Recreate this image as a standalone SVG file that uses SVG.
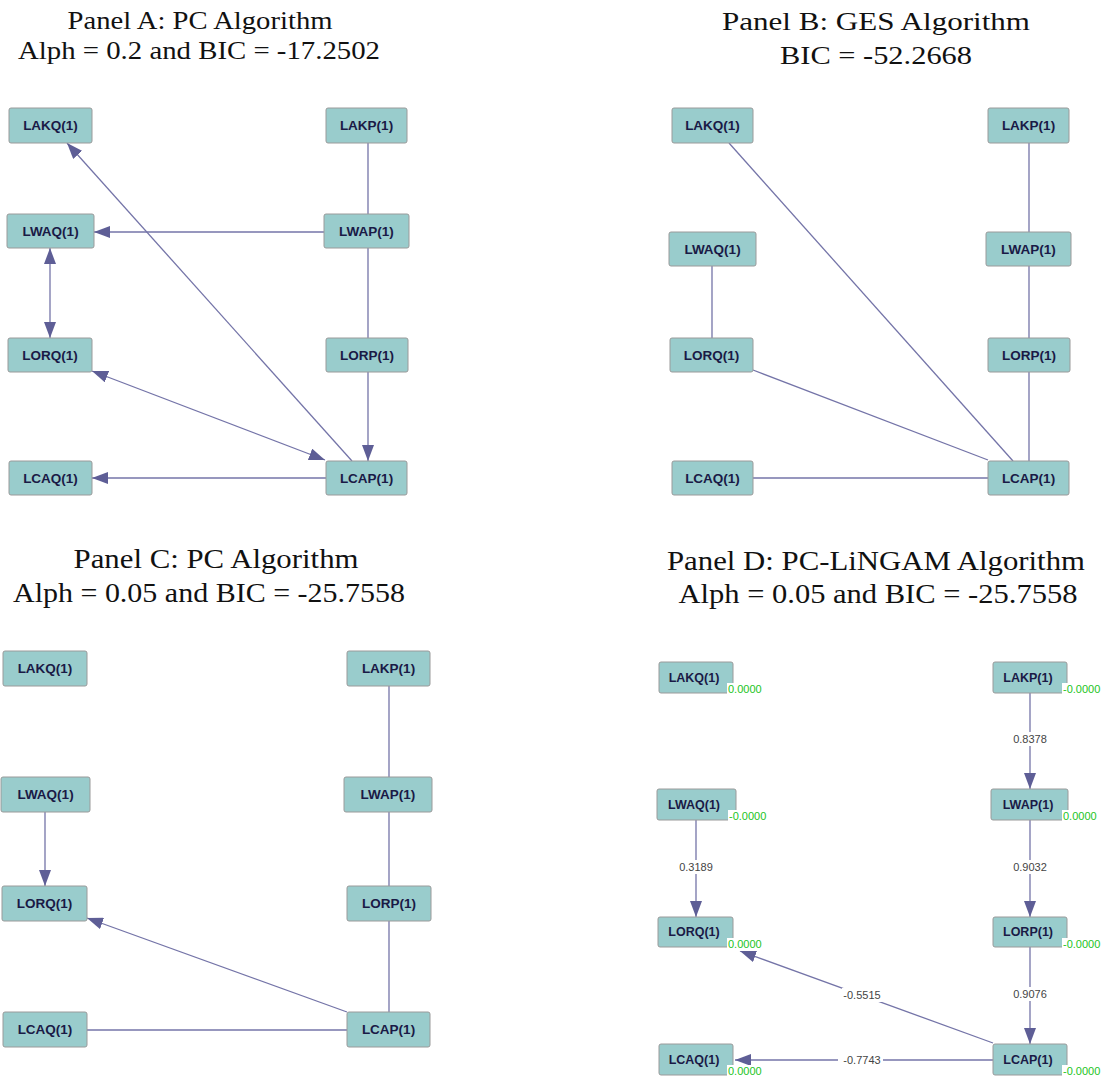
<svg xmlns="http://www.w3.org/2000/svg" width="1107" height="1078" viewBox="0 0 1107 1078">
<style>
.title{font-family:"Liberation Serif","Times New Roman",serif;fill:#111;text-anchor:middle}
.node rect.box{fill:#99cccc;stroke:#9a9a9a;stroke-width:1}
.node text.lbl{font-family:"Liberation Sans",Arial,sans-serif;font-weight:bold;fill:#1a1a46;text-anchor:middle}
.na text.lbl{font-size:13.5px}
.nd text.lbl{font-size:12.5px}
.edge{stroke:#7474a8;stroke-width:1.3;fill:none}
.elab{font-family:"Liberation Sans",Arial,sans-serif;font-size:11px;fill:#444;text-anchor:middle}
.node text.glab{font-family:"Liberation Sans",Arial,sans-serif;font-size:11px;fill:#22c422;font-weight:normal}
.bg,.node rect.bg{fill:#fff;stroke:none}
</style>
<defs>
<marker id="ah" viewBox="0 0 16 12" refX="16" refY="6" markerWidth="16" markerHeight="12" markerUnits="userSpaceOnUse" orient="auto-start-reverse">
<path d="M0,0 L16,6 L0,12 z" fill="#5e5e96"/>
</marker>
</defs>
<rect width="1107" height="1078" fill="#fff"/>

<g id="titles">
<text class="title" x="200" y="29" font-size="25" textLength="265" lengthAdjust="spacingAndGlyphs">Panel A: PC Algorithm</text>
<text class="title" x="199" y="59" font-size="25" textLength="362" lengthAdjust="spacingAndGlyphs">Alph = 0.2 and BIC = -17.2502</text>
<text class="title" x="876" y="30" font-size="26" textLength="308" lengthAdjust="spacingAndGlyphs">Panel B: GES Algorithm</text>
<text class="title" x="876" y="64" font-size="26" textLength="192" lengthAdjust="spacingAndGlyphs">BIC = -52.2668</text>
<text class="title" x="216" y="568" font-size="27" textLength="285" lengthAdjust="spacingAndGlyphs">Panel C: PC Algorithm</text>
<text class="title" x="209" y="602" font-size="27" textLength="392" lengthAdjust="spacingAndGlyphs">Alph = 0.05 and BIC = -25.7558</text>
<text class="title" x="876" y="570" font-size="27" textLength="418" lengthAdjust="spacingAndGlyphs">Panel D: PC-LiNGAM Algorithm</text>
<text class="title" x="878" y="603" font-size="27" textLength="399" lengthAdjust="spacingAndGlyphs">Alph = 0.05 and BIC = -25.7558</text>
</g>

<g id="connectors">
<!-- Panel A -->
<path class="edge" d="M368,143 V214"/>
<path class="edge" d="M324,232 H94" marker-end="url(#ah)"/>
<path class="edge" d="M368,248 V338"/>
<path class="edge" d="M50,248 V338" marker-start="url(#ah)" marker-end="url(#ah)"/>
<path class="edge" d="M368,372 V461" marker-end="url(#ah)"/>
<path class="edge" d="M326,478 H92" marker-end="url(#ah)"/>
<path class="edge" d="M92,371 L325,460" marker-start="url(#ah)" marker-end="url(#ah)"/>
<path class="edge" d="M352,461 L67,143" marker-end="url(#ah)"/>
<!-- Panel B -->
<path class="edge" d="M729,143 L1013,461"/>
<path class="edge" d="M1029,143 V232"/>
<path class="edge" d="M1029,266 V338"/>
<path class="edge" d="M1029,372 V461"/>
<path class="edge" d="M712,266 V338"/>
<path class="edge" d="M753,370 L988,460"/>
<path class="edge" d="M753,478 H988"/>
<!-- Panel C -->
<path class="edge" d="M389,686 V777"/>
<path class="edge" d="M389,812 V886"/>
<path class="edge" d="M389,921 V1012"/>
<path class="edge" d="M45,812 V886" marker-end="url(#ah)"/>
<path class="edge" d="M347,1012 L87,918" marker-end="url(#ah)"/>
<path class="edge" d="M87,1030 H347"/>
<!-- Panel D -->
<path class="edge" d="M1030,693 V789" marker-end="url(#ah)"/>
<path class="edge" d="M1030,820 V917" marker-end="url(#ah)"/>
<path class="edge" d="M1030,947 V1044" marker-end="url(#ah)"/>
<path class="edge" d="M696,820 V917" marker-end="url(#ah)"/>
<path class="edge" d="M993,1043 L740,951" marker-end="url(#ah)"/>
<path class="edge" d="M993,1060 H735" marker-end="url(#ah)"/>
<!-- edge labels -->
<rect class="bg" x="1011" y="732" width="38" height="14"/>
<text class="elab" x="1030" y="743">0.8378</text>
<rect class="bg" x="1011" y="860" width="38" height="14"/>
<text class="elab" x="1030" y="871">0.9032</text>
<rect class="bg" x="1011" y="987" width="38" height="14"/>
<text class="elab" x="1030" y="998">0.9076</text>
<rect class="bg" x="677" y="860" width="38" height="14"/>
<text class="elab" x="696" y="871">0.3189</text>
<rect class="bg" x="842" y="988" width="40" height="14"/>
<text class="elab" x="862" y="999">-0.5515</text>
<rect class="bg" x="838" y="1053" width="45" height="14"/>
<text class="elab" x="862" y="1064">-0.7743</text>
</g>

<!-- Panel A nodes -->
<g id="A-LAKQ" class="node na"><rect class="box" x="9" y="108" width="83" height="35" rx="2"/><text class="lbl" x="50.5" y="130">LAKQ(1)</text></g>
<g id="A-LAKP" class="node na"><rect class="box" x="326" y="108" width="81" height="35" rx="2"/><text class="lbl" x="366.5" y="130">LAKP(1)</text></g>
<g id="A-LWAQ" class="node na"><rect class="box" x="7" y="214" width="87" height="34" rx="2"/><text class="lbl" x="50.5" y="236">LWAQ(1)</text></g>
<g id="A-LWAP" class="node na"><rect class="box" x="324" y="214" width="85" height="34" rx="2"/><text class="lbl" x="366.5" y="236">LWAP(1)</text></g>
<g id="A-LORQ" class="node na"><rect class="box" x="8" y="338" width="84" height="34" rx="2"/><text class="lbl" x="50" y="360">LORQ(1)</text></g>
<g id="A-LORP" class="node na"><rect class="box" x="326" y="338" width="82" height="34" rx="2"/><text class="lbl" x="367" y="360">LORP(1)</text></g>
<g id="A-LCAQ" class="node na"><rect class="box" x="9" y="461" width="83" height="34" rx="2"/><text class="lbl" x="50.5" y="483">LCAQ(1)</text></g>
<g id="A-LCAP" class="node na"><rect class="box" x="326" y="461" width="81" height="34" rx="2"/><text class="lbl" x="366.5" y="483">LCAP(1)</text></g>

<!-- Panel B nodes -->
<g id="B-LAKQ" class="node na"><rect class="box" x="672" y="108" width="81" height="35" rx="2"/><text class="lbl" x="712.5" y="130">LAKQ(1)</text></g>
<g id="B-LAKP" class="node na"><rect class="box" x="988" y="108" width="81" height="35" rx="2"/><text class="lbl" x="1028.5" y="130">LAKP(1)</text></g>
<g id="B-LWAQ" class="node na"><rect class="box" x="669" y="232" width="87" height="34" rx="2"/><text class="lbl" x="712.5" y="254">LWAQ(1)</text></g>
<g id="B-LWAP" class="node na"><rect class="box" x="986" y="232" width="85" height="34" rx="2"/><text class="lbl" x="1028.5" y="254">LWAP(1)</text></g>
<g id="B-LORQ" class="node na"><rect class="box" x="670" y="338" width="83" height="34" rx="2"/><text class="lbl" x="711.5" y="360">LORQ(1)</text></g>
<g id="B-LORP" class="node na"><rect class="box" x="988" y="338" width="82" height="34" rx="2"/><text class="lbl" x="1029" y="360">LORP(1)</text></g>
<g id="B-LCAQ" class="node na"><rect class="box" x="672" y="461" width="81" height="34" rx="2"/><text class="lbl" x="712.5" y="483">LCAQ(1)</text></g>
<g id="B-LCAP" class="node na"><rect class="box" x="988" y="461" width="81" height="34" rx="2"/><text class="lbl" x="1028.5" y="483">LCAP(1)</text></g>

<!-- Panel C nodes -->
<g id="C-LAKQ" class="node na"><rect class="box" x="3" y="651" width="84" height="35" rx="2"/><text class="lbl" x="45" y="673">LAKQ(1)</text></g>
<g id="C-LAKP" class="node na"><rect class="box" x="347" y="651" width="83" height="35" rx="2"/><text class="lbl" x="388.5" y="673">LAKP(1)</text></g>
<g id="C-LWAQ" class="node na"><rect class="box" x="1" y="777" width="89" height="35" rx="2"/><text class="lbl" x="45.5" y="799">LWAQ(1)</text></g>
<g id="C-LWAP" class="node na"><rect class="box" x="344" y="777" width="88" height="35" rx="2"/><text class="lbl" x="388" y="799">LWAP(1)</text></g>
<g id="C-LORQ" class="node na"><rect class="box" x="2" y="886" width="85" height="35" rx="2"/><text class="lbl" x="44.5" y="908">LORQ(1)</text></g>
<g id="C-LORP" class="node na"><rect class="box" x="347" y="886" width="84" height="35" rx="2"/><text class="lbl" x="389" y="908">LORP(1)</text></g>
<g id="C-LCAQ" class="node na"><rect class="box" x="3" y="1012" width="84" height="35" rx="2"/><text class="lbl" x="45" y="1034">LCAQ(1)</text></g>
<g id="C-LCAP" class="node na"><rect class="box" x="347" y="1012" width="83" height="35" rx="2"/><text class="lbl" x="388.5" y="1034">LCAP(1)</text></g>

<!-- Panel D nodes -->
<g id="D-LAKQ" class="node nd"><rect class="box" x="659" y="662" width="74" height="31" rx="2"/><text class="lbl" x="694" y="682">LAKQ(1)</text><rect class="bg" x="727" y="683" width="38" height="13"/><text class="glab" x="728" y="693">0.0000</text></g>
<g id="D-LAKP" class="node nd"><rect class="box" x="993" y="662" width="74" height="31" rx="2"/><text class="lbl" x="1028" y="682">LAKP(1)</text><rect class="bg" x="1062" y="683" width="42" height="13"/><text class="glab" x="1063" y="693">-0.0000</text></g>
<g id="D-LWAQ" class="node nd"><rect class="box" x="657" y="789" width="79" height="31" rx="2"/><text class="lbl" x="694" y="809">LWAQ(1)</text><rect class="bg" x="728" y="810" width="42" height="13"/><text class="glab" x="729" y="820">-0.0000</text></g>
<g id="D-LWAP" class="node nd"><rect class="box" x="991" y="789" width="77" height="31" rx="2"/><text class="lbl" x="1028" y="809">LWAP(1)</text><rect class="bg" x="1062" y="810" width="38" height="13"/><text class="glab" x="1063" y="820">0.0000</text></g>
<g id="D-LORQ" class="node nd"><rect class="box" x="658" y="917" width="75" height="30" rx="2"/><text class="lbl" x="694" y="936">LORQ(1)</text><rect class="bg" x="727" y="938" width="38" height="13"/><text class="glab" x="728" y="948">0.0000</text></g>
<g id="D-LORP" class="node nd"><rect class="box" x="993" y="917" width="74" height="30" rx="2"/><text class="lbl" x="1028" y="936">LORP(1)</text><rect class="bg" x="1062" y="938" width="42" height="13"/><text class="glab" x="1063" y="948">-0.0000</text></g>
<g id="D-LCAQ" class="node nd"><rect class="box" x="659" y="1044" width="74" height="31" rx="2"/><text class="lbl" x="694" y="1064">LCAQ(1)</text><rect class="bg" x="727" y="1065" width="38" height="13"/><text class="glab" x="728" y="1075">0.0000</text></g>
<g id="D-LCAP" class="node nd"><rect class="box" x="993" y="1044" width="74" height="31" rx="2"/><text class="lbl" x="1028" y="1064">LCAP(1)</text><rect class="bg" x="1062" y="1065" width="42" height="13"/><text class="glab" x="1063" y="1075">-0.0000</text></g>
</svg>
